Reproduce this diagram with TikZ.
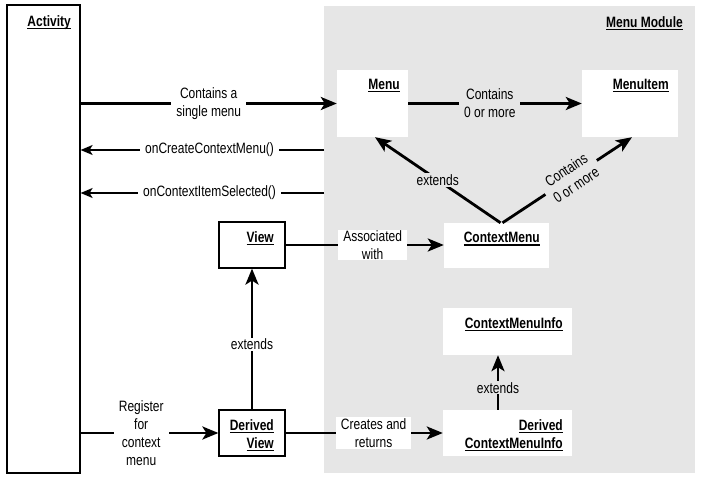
\documentclass[tikz,border=0pt]{standalone}
\usepackage{fontspec}
\setmainfont[FakeStretch=0.80]{Liberation Sans}
\usetikzlibrary{arrows.meta}
\definecolor{modgray}{HTML}{E6E6E6}
% bold underlined box titles
\newcommand{\ubf}[1]{\setbox0\hbox{\bfseries #1}\rlap{\rule[-2.6pt]{\wd0}{1.2pt}}\box0}
\begin{document}
\begin{tikzpicture}[x=1pt,y=-1pt,font=\fontsize{15}{18}\selectfont]
    \tikzstyle{box}=[fill=white,inner sep=0pt]
    \tikzstyle{frame}=[box,draw=black,line width=1.2pt]
    \tikzstyle{title}=[align=right,inner sep=0pt,anchor=north east]
    \tikzstyle{lbl}=[fill=white,align=center,inner xsep=5pt,inner ysep=1pt]
    \tikzstyle{glbl}=[lbl,fill=modgray]
    \tikzstyle{bigarrow}=[line width=2.8pt,-{Stealth[length=16pt,width=13pt,inset=4pt]}]
    \tikzstyle{thinarrow}=[line width=1.5pt,-{Stealth[length=12pt,width=10pt,inset=3pt]}]
    \useasboundingbox (0,0) rectangle (702,478);
    % menu module backdrop
    \node[fill=modgray,inner sep=0pt,minimum width=371pt,minimum height=467pt] (mod) at (509.5,239.5) {};
    \node[title] (modt) at (683,16.3) {\ubf{Menu Module}};
    % boxes
    \node[frame,minimum width=73pt,minimum height=468pt] (act) at (43.5,239) {};
    \node[box,minimum width=71pt,minimum height=67pt] (menu) at (372.5,103.5) {};
    \node[box,minimum width=96pt,minimum height=67pt] (item) at (630,103.5) {};
    \node[box,minimum width=105pt,minimum height=45pt] (cmenu) at (496.5,245.5) {};
    \node[frame,minimum width=66pt,minimum height=46pt] (view) at (252,245) {};
    \node[frame,minimum width=66pt,minimum height=46pt] (dview) at (252,433) {};
    \node[box,minimum width=129pt,minimum height=47pt] (cminfo) at (507.5,331.5) {};
    \node[box,minimum width=129pt,minimum height=46pt] (dcminfo) at (507.5,433) {};
    % titles
    \node[title] (actt) at (71,15.8) {\ubf{Activity}};
    \node[title] (menut) at (400,79.3) {\ubf{Menu}};
    \node[title] (itemt) at (669,79.3) {\ubf{MenuItem}};
    \node[title] (cmenut) at (540,232.3) {\ubf{ContextMenu}};
    \node[title] (viewt) at (274,231.3) {\ubf{View}};
    \node[title] (dviewt) at (274,419.3) {\ubf{Derived}\\\ubf{View}};
    \node[title] (cminfot) at (563,317.3) {\ubf{ContextMenuInfo}};
    \node[title] (dcminfot) at (563,419.3) {\ubf{Derived}\\\ubf{ContextMenuInfo}};
    % callbacks start at the module edge
    \coordinate (g1) at (324,150);
    \coordinate (g2) at (324,193);
    % connectors
    \draw[bigarrow] (act.east |- menu.west) -- node[lbl] (l1) {Contains a\\single menu} (menu.west);
    \draw[thinarrow] (g1) -- node[lbl,pos=0.47] (l2) {onCreateContextMenu()} (g1 -| act.east);
    \draw[thinarrow] (g2) -- node[lbl,pos=0.47] (l3) {onContextItemSelected()} (g2 -| act.east);
    \draw[bigarrow] (menu.east) -- node[glbl,pos=0.47] (l4) {Contains\\0 or more} (item.west);
    \draw[bigarrow] ([xshift=4pt]cmenu.north) -- node[glbl] (l5) {extends} ([xshift=2.5pt]menu.south);
    \draw[bigarrow] ([xshift=6pt]cmenu.north) -- node[glbl,sloped,pos=0.53,inner ysep=0pt] (l6) {Contains\\0 or more} ([xshift=2pt]item.south);
    \draw[bigarrow] (view.east) -- node[lbl,pos=0.55] (l7) {Associated\\with} (view.east -| cmenu.west);
    \draw[bigarrow] (dview.north) -- node[lbl,pos=0.46] (l8) {extends} (view.south);
    \draw[bigarrow] (act.east |- dview.west) -- node[lbl,pos=0.44] (l9) {Register\\for\\context\\menu} (dview.west);
    \draw[bigarrow] (dview.east) -- node[lbl,pos=0.56] (l10) {Creates and\\returns} (dcminfo.west);
    \draw[bigarrow] ([xshift=-9.5pt]dcminfo.north) -- node[glbl,pos=0.4] (l11) {extends} ([xshift=-9.5pt]cminfo.south);
    %\draw (menu) -- (cminfo);
\end{tikzpicture}
\end{document}
